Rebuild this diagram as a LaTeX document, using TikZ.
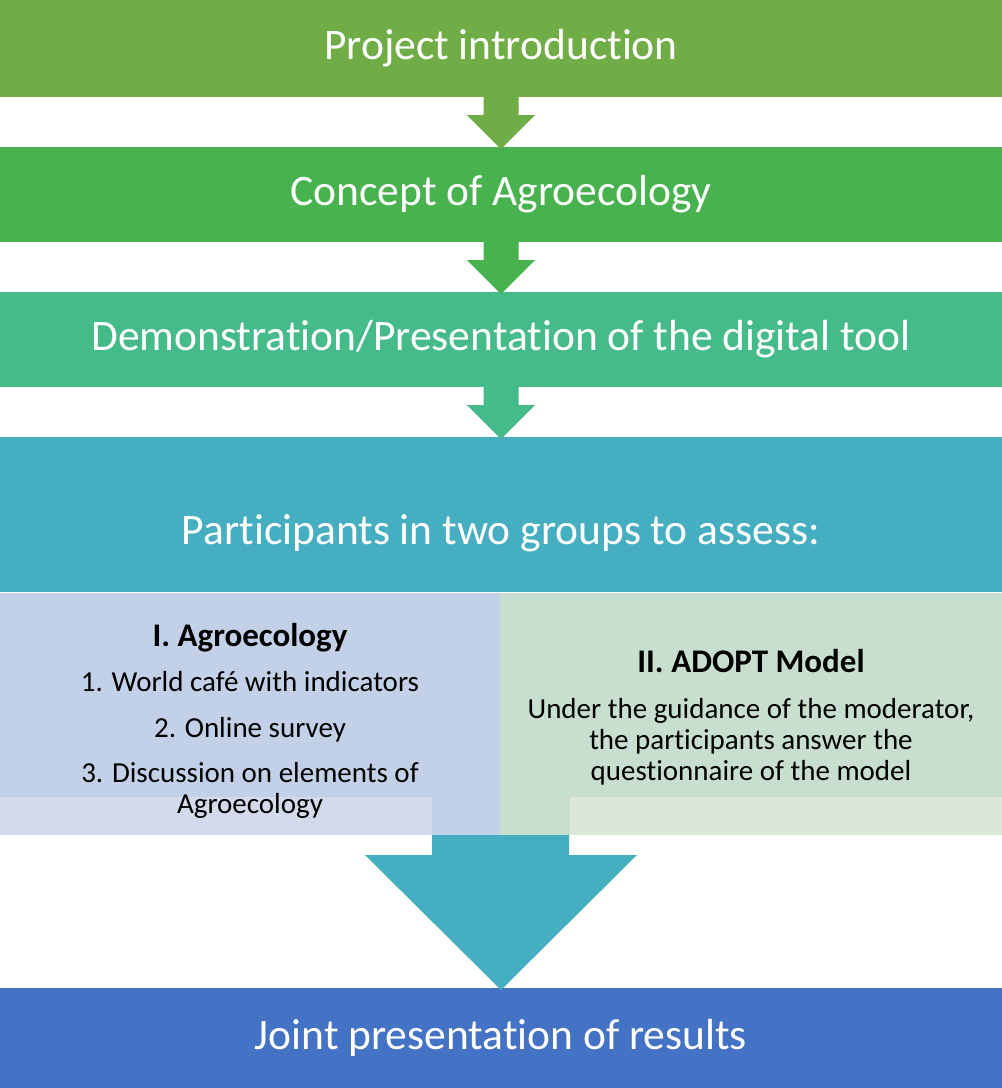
\documentclass[tikz,border=0pt]{standalone}
\usepackage{fontspec}
\setmainfont{Carlito}[Ligatures=NoCommon]
\usetikzlibrary{calc}

\definecolor{introfill}{HTML}{70AD47}
\definecolor{conceptfill}{HTML}{48B24F}
\definecolor{demofill}{HTML}{46BB8A}
\definecolor{groupfill}{HTML}{45AEC1}
\definecolor{jointfill}{HTML}{4472C4}
\definecolor{agrofill}{HTML}{C2D1E7}
\definecolor{adoptfill}{HTML}{C8DFD0}
\definecolor{agrolow}{HTML}{D3DAEB}
\definecolor{adoptlow}{HTML}{DBE6D6}

\begin{document}
\begin{tikzpicture}[x=1pt,y=-1pt]

    \tikzstyle{stage} = [rectangle, minimum width=1002pt, minimum height=95pt,
    inner sep=0pt, outer sep=0pt, text=white, font=\fontsize{43.5}{52}\selectfont]

    \tikzstyle{group} = [rectangle, minimum height=242pt, inner sep=0pt,
    outer sep=0pt]

    \tikzstyle{grouptext} = [align=center, font=\fontsize{29}{31}\selectfont]

    \useasboundingbox (0,0) rectangle (1002,1088);

    \draw
    (501,48.5) node [stage, minimum height=97pt, fill=introfill] (intro) {Project introduction}
    (501,194.5) node [stage, fill=conceptfill] (concept) {Concept of Agroecology}
    (501,339.5) node [stage, fill=demofill] (demo) {Demonstration/Presentation of the digital tool}
    (501,514.5) node [stage, minimum height=155pt, fill=groupfill] (groups) {}
    (250,714) node [group, minimum width=500pt, fill=agrofill] (agro) {}
    (751,714) node [group, minimum width=502pt, fill=adoptfill] (adopt) {}
    (501,1038) node [stage, minimum height=100pt, fill=jointfill] (joint) {Joint presentation of results}
    ;

    % block arrows between the stages
    \foreach \a/\b/\c in {intro/concept/introfill, concept/demo/conceptfill, demo/groups/demofill}
      \fill[\c] ($(\a.south)+(-17.5,0)$) -- ++(0,18) -- ++(-16.5,0) -- ($(\b.north)+(0,2)$)
        -- ($(\a.south)+(34,18)$) -- ++(-16.5,0) -- ++(0,-18) -- cycle;

    \node [stage, fill=none] (groupslabel) at ($(groups)+(0,19)$) {Participants in two groups to assess:};

    \fill[agrolow] (agro.south west) ++(0,-38) rectangle ++(432,38);
    \fill[adoptlow] (adopt.south east) ++(0,-38) rectangle ++(-432,38);

    \node [grouptext] (agrotext) at ($(agro)+(0,7)$) {{\bfseries\fontsize{33}{36}\selectfont I. Agroecology}\\[14pt]
      1. World café with indicators\\[14.5pt] 2. Online survey\\[14.5pt]
      3. Discussion on elements of\\ Agroecology};
    \node [grouptext] (adopttext) at ($(adopt)+(0,3)$) {{\bfseries\fontsize{33}{36}\selectfont II. ADOPT Model}\\[15pt]
      Under the guidance of the moderator,\\ the participants answer the\\ questionnaire of the model};

    \fill[groupfill] ($(agro.south east)+(-68,0)$) -- ++(0,20) -- ++(-67,0) -- ($(joint.north)+(0,2)$)
      -- ($(agro.south east)+(137,20)$) -- ++(-68,0) -- ++(0,-20) -- cycle;
  \end{tikzpicture}
\end{document}
